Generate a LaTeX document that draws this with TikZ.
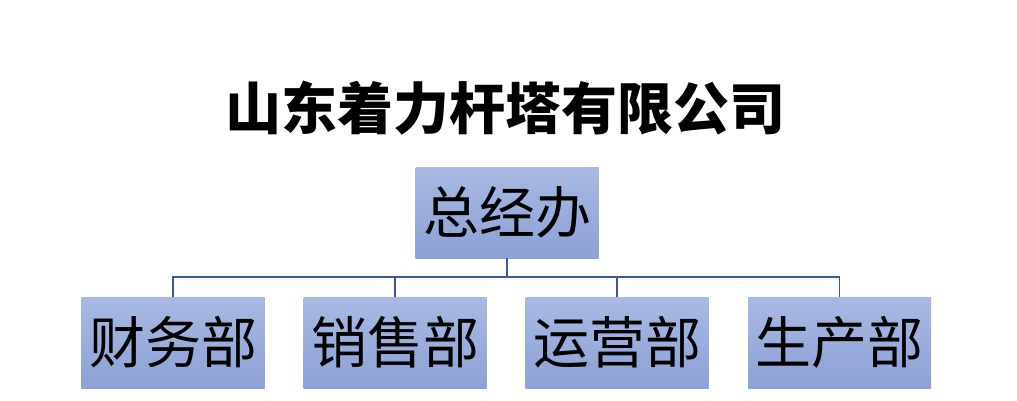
\documentclass[tikz,border=0pt]{standalone}
\usepackage{fontspec}
\newfontfamily\cjk{Noto Sans CJK SC}
\definecolor{boxtop}{HTML}{A9B9E3}
\definecolor{boxbot}{HTML}{8CA1D6}
\definecolor{conn}{HTML}{3B5A96}
\tikzset{
  unit/.style={rectangle, minimum width=183pt, minimum height=91pt, inner sep=0pt,
    top color=boxtop, bottom color=boxbot, draw=none,
    font=\cjk\fontsize{56}{60}\selectfont, text=black},
  conline/.style={draw=conn, line width=1.8pt}
}
\begin{document}
\begin{tikzpicture}[x=1pt,y=-1pt]
\useasboundingbox (0,0) rectangle (1017,401);
\fill[white] (0,0) rectangle (1017,401);
\node[font=\cjk\bfseries\fontsize{56}{60}\selectfont, inner sep=0pt] (title) at (505,108) {山东着力杆塔有限公司};
\node[unit] (top) at (507,212.5) {总经办};
\node[unit] (b1) at (173,342.5) {财务部};
\node[unit] (b2) at (395,342.5) {销售部};
\node[unit] (b3) at (617,342.5) {运营部};
\node[unit] (b4) at (839.5,342.5) {生产部};
\coordinate (bus) at (0,277);
\foreach \b in {b1,b2,b3,b4}{
  \draw[conline] (top.south) -- (top.south |- bus) -| (\b.north);
}
\end{tikzpicture}
\end{document}
